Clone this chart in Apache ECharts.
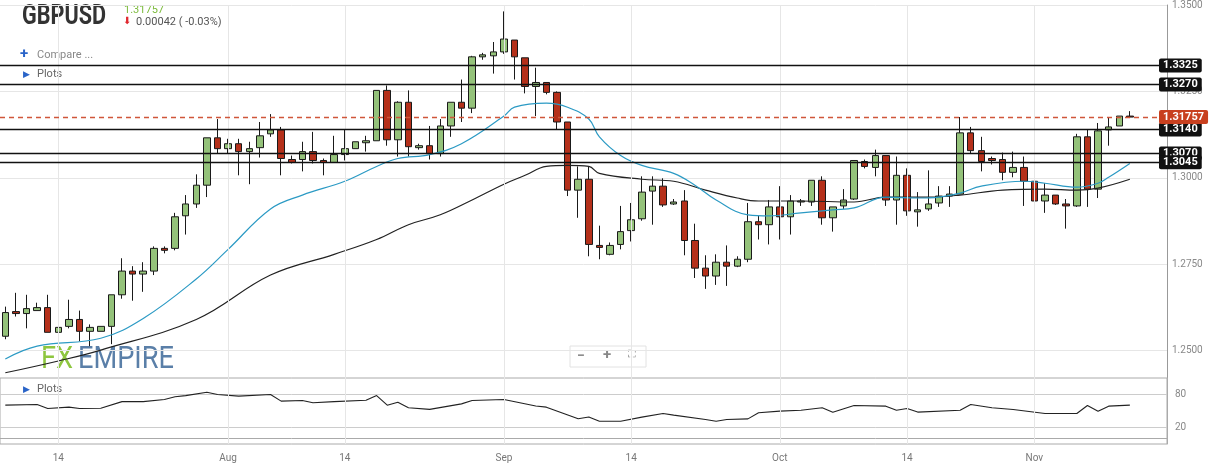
<!DOCTYPE html>
<html><head><meta charset="utf-8">
<script src="https://cdn.jsdelivr.net/npm/echarts@6/dist/echarts.min.js"></script>
<style>html,body{margin:0;padding:0;background:#fff}#c{width:1215px;height:472px}</style>
</head><body><div id="c"></div>
<script>
const openP = [1.25415,1.26129,1.26072,1.26158,1.26244,1.25529,1.25701,1.25901,1.25558,1.25558,
1.25701,1.26615,1.27301,1.27215,1.27301,1.27958,1.27958,1.28901,1.29243,1.29786,
1.31157,1.30843,1.30986,1.30758,1.30872,1.31272,1.31386,1.30529,1.30529,1.30758,
1.30501,1.30443,1.30672,1.30843,1.31015,1.31072,1.32529,1.31100,1.32186,1.30872,
1.30929,1.30700,1.31500,1.32186,1.32015,1.33500,1.33529,1.33643,1.33986,1.33472,
1.32643,1.32758,1.32472,1.31615,1.29643,1.29958,1.28043,1.27786,1.28072,1.28472,
1.28815,1.29615,1.29758,1.29243,1.29329,1.28186,1.27386,1.27158,1.27558,1.27443,
1.27643,1.28729,1.28643,1.29158,1.28872,1.29300,1.29300,1.29929,1.28843,1.29186,
1.29386,1.30472,1.30300,1.30643,1.29358,1.30072,1.29015,1.29100,1.29272,1.29472,
1.29529,1.31300,1.30786,1.30558,1.30529,1.30158,1.30300,1.29900,1.29329,1.29500,
1.29243,1.29186,1.31186,1.29672,1.31386,1.31500,1.31786];
const closeP = [1.26101,1.26072,1.26215,1.26244,1.25529,1.25672,1.25901,1.25558,1.25672,1.25701,
1.26615,1.27301,1.27215,1.27301,1.27958,1.27901,1.28872,1.29243,1.29786,1.31157,
1.30843,1.30986,1.30758,1.30843,1.31215,1.31386,1.30558,1.30443,1.30758,1.30501,
1.30443,1.30672,1.30843,1.31043,1.31072,1.32529,1.31100,1.32186,1.30900,1.30929,
1.30700,1.31500,1.32186,1.32015,1.33500,1.33558,1.33643,1.34015,1.33500,1.32643,
1.32758,1.32472,1.31615,1.29643,1.29958,1.28072,1.27986,1.28043,1.28443,1.28786,
1.29586,1.29758,1.29215,1.29300,1.28186,1.27386,1.27158,1.27558,1.27443,1.27643,
1.28729,1.28643,1.29158,1.28872,1.29329,1.29329,1.29929,1.28843,1.29158,1.29358,
1.30501,1.30329,1.30643,1.29358,1.30072,1.29043,1.29072,1.29243,1.29472,1.29529,
1.31300,1.30786,1.30472,1.30501,1.30158,1.30300,1.29900,1.29329,1.29500,1.29243,
1.29186,1.31186,1.29672,1.31358,1.31472,1.31786,1.31757];
const lowP = [1.25329,1.25986,1.25644,1.26158,1.25529,1.24986,1.25644,1.25272,1.25129,1.25558,
1.25186,1.26501,1.26443,1.26701,1.27186,1.27815,1.27901,1.28358,1.29129,1.29443,
1.30700,1.30700,1.30072,1.29815,1.30586,1.31186,1.30072,1.30415,1.30186,1.30415,
1.30072,1.30443,1.30501,1.30843,1.30758,1.31072,1.30929,1.30615,1.30615,1.30815,
1.30529,1.30615,1.31186,1.31615,1.31872,1.33415,1.33015,1.33586,1.32843,1.32443,
1.31786,1.32415,1.31386,1.29472,1.28843,1.27729,1.27643,1.27758,1.27929,1.28158,
1.28758,1.28643,1.29158,1.29215,1.27758,1.27101,1.26786,1.26901,1.26872,1.27415,
1.27558,1.28215,1.28072,1.28215,1.28358,1.29186,1.29186,1.28643,1.28443,1.29100,
1.29358,1.30272,1.30043,1.29186,1.28643,1.28900,1.28586,1.29043,1.29158,1.29158,
1.29529,1.30700,1.30186,1.30386,1.29929,1.30015,1.29186,1.28815,1.28986,1.29215,
1.28529,1.29158,1.29158,1.29415,1.30929,1.31500,1.31729];
const highP = [1.26272,1.26672,1.26615,1.26386,1.26615,1.25672,1.26472,1.26158,1.25758,1.25701,
1.26615,1.27672,1.27443,1.27558,1.28015,1.28015,1.28986,1.29500,1.30100,1.31157,
1.31700,1.31129,1.31129,1.31043,1.31615,1.31843,1.31472,1.30643,1.31043,1.31329,
1.30558,1.31215,1.31386,1.31043,1.31215,1.32529,1.32672,1.32215,1.32529,1.30986,
1.31500,1.31700,1.32186,1.32843,1.33529,1.33615,1.33929,1.34815,1.33986,1.33472,
1.33186,1.32758,1.32500,1.31615,1.30329,1.30329,1.28615,1.28129,1.29186,1.29272,
1.30043,1.30043,1.29986,1.29386,1.29643,1.28672,1.27758,1.27786,1.28043,1.27729,
1.29272,1.28900,1.29358,1.29758,1.29500,1.29386,1.29929,1.30043,1.29158,1.29672,
1.30501,1.30529,1.30815,1.30643,1.30615,1.30272,1.29586,1.30215,1.29758,1.29758,
1.31758,1.31472,1.31186,1.30615,1.30729,1.30758,1.30615,1.30215,1.29843,1.29500,
1.29386,1.31272,1.31386,1.31586,1.31758,1.31786,1.31929];

const maFast = [[0,1.24757],[3,1.25129],[9,1.25358],[13,1.25929],[18,1.27072],[21,1.27929],[25,1.29100],[28,1.29500],[32,1.29900],[35,1.30329],[37,1.30558],[40,1.30672],[43,1.30986],[47,1.31786],[48,1.32043],[51,1.32158],[53,1.32043],[55,1.31700],[56,1.31186],[58,1.30643],[60,1.30358],[63,1.30129],[65,1.29786],[67,1.29358],[70,1.28929],[72,1.28900],[75,1.28986],[78,1.29072],[80,1.29129],[83,1.29443],[86,1.29415],[88,1.29443],[90,1.29558],[92,1.29758],[96,1.29900],[98,1.29843],[101,1.29729],[103,1.29843],[104,1.30015],[106,1.30415]];
const maSlow = [[0,1.24358],[5,1.24700],[9,1.25015],[18,1.25900],[25,1.27186],[31,1.27786],[35,1.28215],[38,1.28643],[41,1.28929],[44,1.29358],[47,1.29815],[49,1.30072],[51,1.30329],[53,1.30358],[55,1.30329],[56,1.30129],[60,1.29958],[63,1.29900],[66,1.29643],[69,1.29415],[71,1.29329],[75,1.29329],[80,1.29300],[83,1.29443],[87,1.29443],[90,1.29500],[94,1.29643],[98,1.29672],[101,1.29643],[103,1.29700],[106,1.29958]];
const oscPlot = [[0,60.6],[3,61.8],[4,54.5],[6,57],[7,54.5],[9,55],[11,67],[13,67],[15,71],[16,75.8],[17,78],[19,84],[20,80],[22,77],[25,80],[26,68],[28,69],[29,65],[31,67],[34,69.6],[35,78],[36,60.6],[37,66],[38,56],[40,53],[43,63],[44,69],[47,71],[50,59],[51,57],[54,36],[55,39],[56,31.5],[58,31.5],[60,38.8],[62,45.5],[63,42.5],[66,34.5],[67,31.5],[68,34.5],[70,35.7],[71,46.7],[73,49.7],[75,51.5],[77,55.8],[78,47.9],[80,60],[83,58.8],[84,51.5],[85,54.5],[86,48],[90,51.5],[91,61.8],[93,55.8],[95,52.7],[98,45.5],[101,45.5],[102,60],[103,49.7],[104,58.8],[106,60.6]];

const levels = [1.3325, 1.3270, 1.3140, 1.3070, 1.3045];
const levelText = ['1.3325','1.3270','1.3140','1.3070','1.3045'];
const lastPrice = 1.31757;
const tickLabels = {5:'14',21:'Aug',32:'14',47:'Sep',59:'14',73:'Oct',85:'14',97:'Nov'};
const nCats = 110;

const cats = [];
for (let i = 0; i < nCats; i++) cats.push(String(i));
const candles = openP.map((o, i) => [o, closeP[i], lowP[i], highP[i]]);
const vLines = Object.keys(tickLabels).map(k => ({xAxis: String(k)}));

const chart = echarts.init(document.getElementById('c'));
const levelLines = levels.map((v, i) => ({
  yAxis: v,
  lineStyle: {color: '#111', width: 1.3, type: 'solid'},
  label: {formatter: levelText[i], backgroundColor: '#111', color: '#fff'}
}));
levelLines.push({
  yAxis: lastPrice,
  lineStyle: {color: '#d0563a', width: 1.3, type: [5, 4]},
  label: {formatter: '1.31757', backgroundColor: '#c8401f', color: '#fff'}
});

chart.setOption({
  animation: false,
  grid: [
    {left: -5, width: 1172, top: 0, height: 437},
    {left: -5, width: 1172, top: 378, height: 66, show: true, borderColor: '#aaa', borderWidth: 1, backgroundColor: 'rgba(255,255,255,0)'}
  ],
  xAxis: [
    {type: 'category', data: cats, gridIndex: 0, show: false, boundaryGap: true},
    {type: 'category', data: cats, gridIndex: 1, boundaryGap: true,
     axisLine: {show: true, lineStyle: {color: '#aaa'}}, axisTick: {show: false},
     axisLabel: {interval: 0, color: '#777', fontSize: 10, fontFamily: 'Roboto', margin: 9,
       formatter: (v) => tickLabels[v] || ''}}
  ],
  yAxis: [
    {type: 'value', gridIndex: 0, position: 'right', min: 1.225, max: 1.35, interval: 0.025,
     axisLine: {show: true, lineStyle: {color: '#999'}}, axisTick: {show: false},
     splitLine: {show: true, lineStyle: {color: ['transparent', '#e6e6e6', '#e6e6e6', '#e6e6e6', '#e6e6e6', '#e6e6e6']}},
     axisLabel: {color: '#888', fontSize: 10, fontFamily: 'Roboto', margin: 5,
       formatter: (v) => (v < 1.24 ? '' : v.toFixed(4))}},
    {type: 'value', gridIndex: 1, position: 'right', min: -10, max: 110, interval: 30,
     axisLine: {show: true, lineStyle: {color: '#aaa'}}, axisTick: {show: false},
     splitLine: {show: true, lineStyle: {color: ['transparent', '#ccc', 'transparent', '#ccc', 'transparent']}},
     axisLabel: {color: '#888', fontSize: 10, fontFamily: 'Roboto', margin: 8,
       formatter: (v) => (v === 20 || v === 80 ? String(v) : '')}}
  ],
  series: [
    {type: 'line', xAxisIndex: 0, yAxisIndex: 0, data: [], silent: true,
     markLine: {silent: true, symbol: 'none', label: {show: false},
       lineStyle: {color: '#e6e6e6', width: 1, type: 'solid'}, data: vLines}},
    {type: 'line', xAxisIndex: 0, yAxisIndex: 0, data: maSlow, smooth: 0.4, showSymbol: false,
     lineStyle: {color: '#222', width: 1.2}, silent: true},
    {type: 'line', xAxisIndex: 0, yAxisIndex: 0, data: maFast, smooth: 0.4, showSymbol: false,
     lineStyle: {color: '#2b9ac4', width: 1.2}, silent: true},
    {type: 'candlestick', xAxisIndex: 0, yAxisIndex: 0, data: candles, barWidth: 7,
     itemStyle: {color: '#94c27a', color0: '#b5301a', borderColor: '#1a1a1a', borderColor0: '#1a1a1a', borderWidth: 1},
     markLine: {silent: true, symbol: 'none', precision: 5,
       label: {position: 'end', distance: -8, fontSize: 11, fontWeight: 'bold', fontFamily: 'Roboto',
         padding: [2, 4, 1, 4], borderRadius: 2},
       data: levelLines}},
    {type: 'line', xAxisIndex: 1, yAxisIndex: 1, data: oscPlot, showSymbol: false,
     lineStyle: {color: '#222', width: 1.1}, silent: true,
     markLine: {silent: true, symbol: 'none', label: {show: false},
       lineStyle: {color: '#e6e6e6', width: 1, type: 'solid'}, data: vLines}}
  ],
  graphic: [
    {type: 'text', x: 22, y: 4, scaleX: 0.8, style: {text: 'GBPUSD', font: 'bold 27px Roboto', fill: '#333'}},
    {type: 'text', left: 124, top: 5, style: {text: '1.31757', font: '11px Roboto', fill: '#7cbb3c'}},
    {type: 'text', left: 123, top: 16, style: {text: '\u2B07', font: '10px "DejaVu Sans"', fill: '#e0282f'}},
    {type: 'text', left: 136, top: 17, style: {text: '0.00042 ( -0.03%)', font: '11px Roboto', fill: '#555'}},
    {type: 'text', left: 20, top: 47, style: {text: '+', font: 'bold 15px Roboto', fill: '#2a64c8'}},
    {type: 'text', left: 37, top: 50, style: {text: 'Compare ...', font: '11px Roboto', fill: '#888'}},
    {type: 'text', left: 23, top: 70, style: {text: '\u25B6', font: '9px "DejaVu Sans"', fill: '#2a64c8'}},
    {type: 'text', left: 37, top: 69, style: {text: 'Plots', font: '11px Roboto', fill: '#666'}},
    {type: 'text', left: 23, top: 385, style: {text: '\u25B6', font: '9px "DejaVu Sans"', fill: '#2a64c8'}},
    {type: 'text', left: 37, top: 384, style: {text: 'Plots', font: '11px Roboto', fill: '#666'}},
    {type: 'text', x: 41, y: 344, scaleX: 0.85, style: {text: 'FX', font: '32px Roboto', fill: '#8dc63f'}},
    {type: 'text', x: 78, y: 344, scaleX: 0.85, style: {text: 'EMPIRE', font: '32px Roboto', fill: '#5a7fa8'}},
    {type: 'rect', shape: {x: 570, y: 346, width: 76, height: 21}, style: {fill: '#fff', stroke: '#e2e2e2'}},
    {type: 'text', left: 577, top: 349, style: {text: '\u2212', font: 'bold 14px Roboto', fill: '#888'}},
    {type: 'text', left: 603, top: 348, style: {text: '+', font: 'bold 15px Roboto', fill: '#888'}},
    {type: 'text', left: 628, top: 350, style: {text: '\u26F6', font: '11px "DejaVu Sans"', fill: '#888'}}
  ]
});
</script></body></html>
